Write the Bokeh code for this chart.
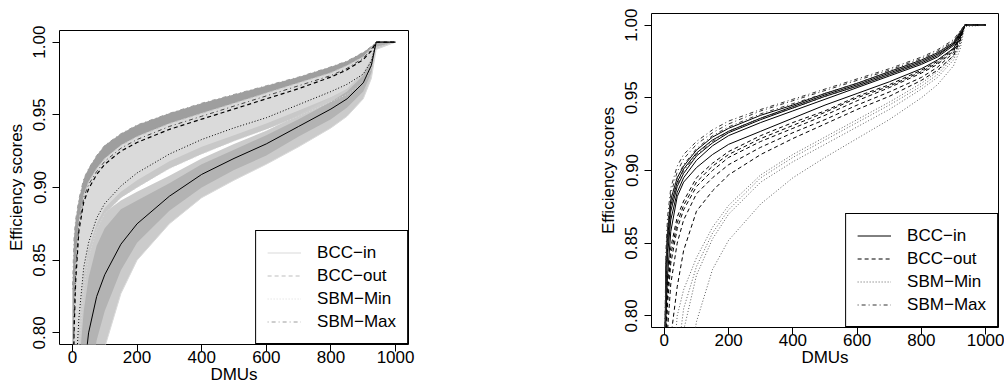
from bokeh.plotting import figure
from bokeh.layouts import row
from bokeh.models import (FixedTicker, Legend, LegendItem, Range1d,
                          NumeralTickFormatter)
from bokeh.embed import file_html
from bokeh.resources import INLINE

FONT = "Liberation Sans"
FS = "17px"

X_TICKS = [0, 200, 400, 600, 800, 1000]
Y_TICKS = [0.80, 0.85, 0.90, 0.95, 1.00]
LEGEND_LABELS = ["BCC\u2212in", "BCC\u2212out", "SBM\u2212Min", "SBM\u2212Max"]

# ---------------- left panel (bootstrap bands + means) ----------------
XB = [0, 5, 10, 20, 35, 50, 75, 100, 150, 200, 300, 400, 500, 600, 700, 800, 850, 900, 925, 940, 1000]

L_SOLID = [0.50, 0.60, 0.66, 0.72, 0.77, 0.80, 0.825, 0.840, 0.861, 0.875, 0.894, 0.909, 0.920, 0.930, 0.942, 0.954, 0.961, 0.972, 0.984, 1.0, 1.0]
L_DASH = [0.70, 0.80, 0.835, 0.870, 0.890, 0.899, 0.909, 0.916, 0.925, 0.931, 0.940, 0.947, 0.954, 0.961, 0.968, 0.976, 0.981, 0.988, 0.994, 1.0, 1.0]
L_DOTDASH = [0.72, 0.81, 0.842, 0.874, 0.893, 0.902, 0.911, 0.918, 0.927, 0.933, 0.942, 0.949, 0.956, 0.963, 0.970, 0.977, 0.982, 0.989, 0.995, 1.0, 1.0]
L_DOT = [0.65, 0.72, 0.77, 0.81, 0.845, 0.862, 0.879, 0.889, 0.901, 0.910, 0.923, 0.933, 0.941, 0.948, 0.957, 0.966, 0.971, 0.978, 0.987, 1.0, 1.0]

TOP_HI = [0.83, 0.866, 0.878, 0.892, 0.906, 0.913, 0.922, 0.929, 0.937, 0.943, 0.951, 0.958, 0.964, 0.970, 0.976, 0.983, 0.987, 0.993, 0.997, 1.0, 1.0]
TOP_LO = [0.72, 0.815, 0.846, 0.877, 0.895, 0.904, 0.913, 0.920, 0.929, 0.935, 0.944, 0.951, 0.958, 0.965, 0.972, 0.979, 0.984, 0.990, 0.996, 1.0, 1.0]
MID_LO = [0.62, 0.69, 0.74, 0.79, 0.83, 0.852, 0.871, 0.882, 0.893, 0.900, 0.913, 0.923, 0.932, 0.940, 0.949, 0.959, 0.964, 0.972, 0.982, 0.996, 1.0]
MID_MED = [0.63, 0.70, 0.75, 0.80, 0.837, 0.857, 0.875, 0.886, 0.897, 0.905, 0.918, 0.928, 0.936, 0.944, 0.953, 0.962, 0.967, 0.975, 0.984, 0.998, 1.0]
LOW_HI = [0.64, 0.72, 0.76, 0.80, 0.84, 0.858, 0.874, 0.883, 0.891, 0.897, 0.908, 0.920, 0.930, 0.939, 0.950, 0.962, 0.968, 0.979, 0.989, 1.0, 1.0]
LOW_LO = [0.40, 0.45, 0.50, 0.60, 0.68, 0.72, 0.765, 0.790, 0.827, 0.850, 0.875, 0.893, 0.905, 0.916, 0.928, 0.941, 0.949, 0.961, 0.975, 0.995, 1.0]
CORE_HI = [0.60, 0.68, 0.72, 0.775, 0.815, 0.838, 0.860, 0.872, 0.885, 0.891, 0.903, 0.916, 0.926, 0.936, 0.947, 0.959, 0.966, 0.977, 0.988, 1.0, 1.0]
CORE_LO = [0.44, 0.52, 0.58, 0.66, 0.72, 0.76, 0.795, 0.815, 0.843, 0.862, 0.884, 0.900, 0.912, 0.922, 0.935, 0.947, 0.955, 0.966, 0.979, 0.997, 1.0]

# ---------------- right panel (individual runs) ----------------
XR = [0, 5, 10, 20, 40, 60, 100, 150, 200, 300, 400, 500, 600, 700, 800, 850, 900, 920, 935, 1000]

BCC_IN = [
    [0.75, 0.835, 0.858, 0.880, 0.895, 0.903, 0.914, 0.923, 0.929, 0.938, 0.945, 0.953, 0.960, 0.968, 0.976, 0.981, 0.988, 0.995, 1.0, 1.0],
    [0.74, 0.830, 0.853, 0.876, 0.892, 0.901, 0.912, 0.921, 0.927, 0.936, 0.944, 0.952, 0.959, 0.967, 0.975, 0.980, 0.987, 0.994, 1.0, 1.0],
    [0.73, 0.825, 0.848, 0.872, 0.889, 0.898, 0.910, 0.919, 0.926, 0.935, 0.943, 0.951, 0.958, 0.966, 0.974, 0.979, 0.987, 0.994, 1.0, 1.0],
    [0.72, 0.818, 0.842, 0.866, 0.885, 0.895, 0.907, 0.917, 0.924, 0.933, 0.941, 0.949, 0.957, 0.965, 0.973, 0.978, 0.986, 0.993, 1.0, 1.0],
    [0.70, 0.800, 0.828, 0.858, 0.882, 0.892, 0.902, 0.911, 0.918, 0.927, 0.936, 0.945, 0.953, 0.961, 0.970, 0.976, 0.984, 0.992, 1.0, 1.0],
]
BCC_OUT = [
    [0.72, 0.80, 0.822, 0.847, 0.868, 0.879, 0.895, 0.905, 0.913, 0.924, 0.933, 0.941, 0.951, 0.959, 0.969, 0.975, 0.984, 0.992, 1.0, 1.0],
    [0.71, 0.79, 0.815, 0.842, 0.864, 0.876, 0.892, 0.903, 0.911, 0.922, 0.931, 0.940, 0.950, 0.958, 0.968, 0.974, 0.983, 0.991, 1.0, 1.0],
    [0.70, 0.78, 0.808, 0.836, 0.860, 0.873, 0.889, 0.900, 0.909, 0.920, 0.929, 0.938, 0.948, 0.957, 0.967, 0.973, 0.982, 0.991, 1.0, 1.0],
    [0.69, 0.76, 0.790, 0.822, 0.850, 0.866, 0.884, 0.895, 0.904, 0.916, 0.926, 0.935, 0.945, 0.954, 0.964, 0.971, 0.981, 0.990, 1.0, 1.0],
    [0.66, 0.72, 0.750, 0.785, 0.820, 0.845, 0.872, 0.886, 0.897, 0.911, 0.922, 0.932, 0.942, 0.951, 0.962, 0.969, 0.979, 0.989, 1.0, 1.0],
]
SBM_MIN = [
    [0.60, 0.65, 0.69, 0.745, 0.80, 0.818, 0.840, 0.861, 0.876, 0.897, 0.911, 0.923, 0.935, 0.947, 0.960, 0.968, 0.979, 0.988, 1.0, 1.0],
    [0.58, 0.62, 0.66, 0.71, 0.77, 0.805, 0.834, 0.857, 0.873, 0.895, 0.909, 0.921, 0.933, 0.945, 0.958, 0.966, 0.978, 0.987, 1.0, 1.0],
    [0.56, 0.60, 0.64, 0.69, 0.75, 0.79, 0.828, 0.853, 0.870, 0.892, 0.906, 0.918, 0.930, 0.942, 0.956, 0.964, 0.976, 0.986, 1.0, 1.0],
    [0.50, 0.55, 0.58, 0.63, 0.70, 0.745, 0.796, 0.832, 0.852, 0.877, 0.895, 0.909, 0.922, 0.935, 0.950, 0.959, 0.972, 0.983, 0.999, 1.0],
]
SBM_MAX = [
    [0.76, 0.845, 0.868, 0.888, 0.903, 0.911, 0.920, 0.928, 0.934, 0.942, 0.949, 0.956, 0.963, 0.970, 0.978, 0.983, 0.990, 0.996, 1.0, 1.0],
    [0.75, 0.838, 0.862, 0.884, 0.899, 0.908, 0.918, 0.926, 0.932, 0.941, 0.948, 0.955, 0.962, 0.969, 0.977, 0.982, 0.989, 0.995, 1.0, 1.0],
    [0.74, 0.832, 0.856, 0.879, 0.895, 0.904, 0.915, 0.924, 0.930, 0.939, 0.946, 0.953, 0.960, 0.968, 0.976, 0.981, 0.988, 0.995, 1.0, 1.0],
    [0.73, 0.826, 0.850, 0.873, 0.890, 0.900, 0.911, 0.920, 0.927, 0.936, 0.943, 0.951, 0.958, 0.966, 0.975, 0.980, 0.987, 0.994, 1.0, 1.0],
]

DASH = "4 3"
DOT = "1 2"
DOTDASH = "1 3 4 3"


def make_fig(width, mbl, mbr):
    p = figure(width=width, height=389, output_backend="svg", toolbar_location=None,
               x_range=Range1d(-40, 1040), y_range=Range1d(0.792, 1.008),
               min_border_left=mbl, min_border_right=mbr,
               min_border_top=30, min_border_bottom=45)
    p.grid.visible = False
    p.outline_line_color = "black"
    p.outline_line_width = 1
    p.background_fill_color = "white"
    p.border_fill_color = "white"
    p.xaxis.ticker = FixedTicker(ticks=X_TICKS)
    p.yaxis.ticker = FixedTicker(ticks=Y_TICKS)
    p.yaxis.formatter = NumeralTickFormatter(format="0.00")
    for ax in p.axis:
        ax.axis_line_color = None
        ax.major_tick_in = 0
        ax.major_tick_out = 7
        ax.major_tick_line_color = "black"
        ax.minor_tick_line_color = None
        ax.major_label_text_font = FONT
        ax.major_label_text_font_size = FS
        ax.major_label_text_color = "black"
        ax.axis_label_text_font = FONT
        ax.axis_label_text_font_size = FS
        ax.axis_label_text_font_style = "normal"
        ax.axis_label_text_color = "black"
    p.xaxis.axis_label = "DMUs"
    p.yaxis.axis_label = "Efficiency scores"
    p.xaxis.major_label_standoff = -1
    p.xaxis.axis_label_standoff = -1
    p.yaxis.major_label_standoff = 7
    p.yaxis.axis_label_standoff = 5
    p.yaxis.major_label_orientation = "vertical"
    return p


def add_legend(p, renderers):
    items = [LegendItem(label=lab, renderers=[r]) for lab, r in zip(LEGEND_LABELS, renderers)]
    lg = Legend(items=items, location="bottom_right", margin=0, padding=11, spacing=2,
                glyph_width=34, glyph_height=21, label_height=21, label_standoff=16,
                label_text_font=FONT, label_text_font_size=FS, label_text_color="black",
                border_line_color="black", border_line_width=1, border_line_alpha=1,
                background_fill_color="white", background_fill_alpha=1)
    p.add_layout(lg)


# left figure
p1 = make_fig(595, 59, 187)
p1.varea(x=XB, y1=MID_LO, y2=TOP_LO, fill_color="#dadada")
p1.varea(x=XB, y1=MID_LO, y2=MID_MED, fill_color="#c8c8c8")
p1.varea(x=XB, y1=LOW_LO, y2=LOW_HI, fill_color="#cbcbcb")
p1.varea(x=XB, y1=CORE_LO, y2=CORE_HI, fill_color="#b3b3b3")
p1.varea(x=XB, y1=TOP_LO, y2=TOP_HI, fill_color="#9e9e9e")
g_in = p1.line(XB, LOW_LO, line_color="#d9d9d9", line_width=1)
g_out = p1.line(XB, TOP_LO, line_color="#bdbdbd", line_width=1, line_dash=DASH)
g_min = p1.line(XB, MID_LO, line_color="#d9d9d9", line_width=1, line_dash=DOT)
g_max = p1.line(XB, TOP_HI, line_color="#9c9c9c", line_width=1, line_dash=DOTDASH)
p1.line(XB, L_SOLID, line_color="black", line_width=1)
p1.line(XB, L_DOT, line_color="black", line_width=1, line_dash=DOT)
p1.line(XB, L_DOTDASH, line_color="#444444", line_width=1, line_dash=DOTDASH)
p1.line(XB, L_DASH, line_color="black", line_width=1.2, line_dash=DASH)
add_legend(p1, [g_in, g_out, g_min, g_max])

# right figure (shifted up relative to the left one)
p2 = make_fig(409, 54, 6)
p2.margin = (-17, 0, 0, 0)
r_min = [p2.line(XR, ys, line_color="#606060", line_width=1, line_dash=DOT) for ys in SBM_MIN]
r_out = [p2.line(XR, ys, line_color="black", line_width=1, line_dash=DASH) for ys in BCC_OUT]
r_in = [p2.line(XR, ys, line_color="black", line_width=1) for ys in BCC_IN]
r_max = [p2.line(XR, ys, line_color="#333333", line_width=1, line_dash=DOTDASH) for ys in SBM_MAX]
add_legend(p2, [r_in[0], r_out[0], r_min[0], r_max[0]])

layout = row(p1, p2)
open("out.html", "w").write(file_html(layout, INLINE))
